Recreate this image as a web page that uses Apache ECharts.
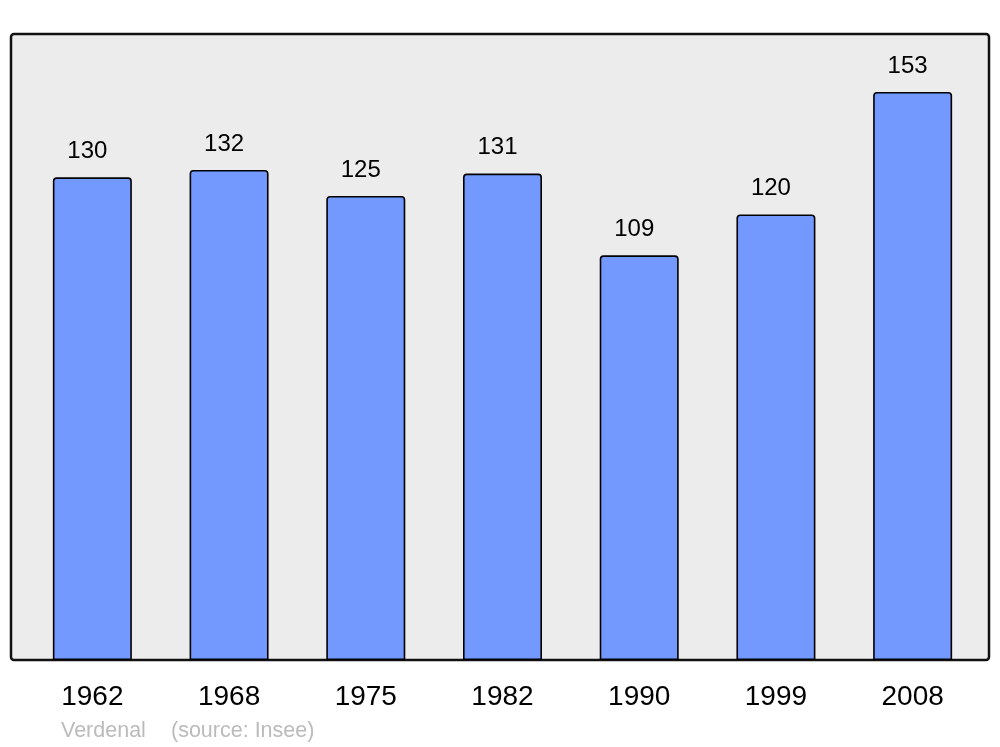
<!DOCTYPE html>
<html><head><meta charset="utf-8">
<script src="https://cdn.jsdelivr.net/npm/echarts@6/dist/echarts.min.js"></script>
<style>html,body{margin:0;padding:0;background:#fff}#c{width:1000px;height:747px}</style>
</head><body><div id="c"></div>
<script>
const categories = ['1962','1968','1975','1982','1990','1999','2008'];
const population = [130,132,125,131,109,120,153];
const sourceName = 'Verdenal';
const sourceNote = '(source: Insee)';

const chart = echarts.init(document.getElementById('c'), null, {renderer:'canvas'});
chart.setOption({
  animation:false,
  backgroundColor:'#ffffff',
  textStyle:{fontFamily:'Liberation Sans, Arial, sans-serif'},
  grid:{left:24,right:19,top:34,bottom:87},
  graphic:[
    {type:'rect',z:0,shape:{x:11,y:34,width:978,height:626,r:3},
     style:{fill:'#ececec',stroke:'#111',lineWidth:2.5}},
    {type:'text',left:61,top:720,style:{text:sourceName,fill:'#bbbbbb',font:'21.5px "Liberation Sans", Arial, sans-serif'}},
    {type:'text',left:171,top:720,style:{text:sourceNote,fill:'#bbbbbb',font:'21.5px "Liberation Sans", Arial, sans-serif'}}
  ],
  xAxis:{type:'category',data:categories,
    axisLine:{show:false},axisTick:{show:false},
    axisLabel:{color:'#000',fontSize:28,margin:23,fontFamily:'Liberation Sans'}},
  yAxis:{type:'value',min:0,max:168.6,show:false,splitLine:{show:false}},
  series:[{type:'bar',data:population,barWidth:79,z:2,
    itemStyle:{color:'#7399ff',borderColor:'#000',borderWidth:1.6,borderRadius:[3,3,0,0]},
    label:{show:true,position:'top',distance:14,offset:[-5,0],color:'#000',fontSize:24,fontFamily:'Liberation Sans'}}]
});
</script></body></html>
